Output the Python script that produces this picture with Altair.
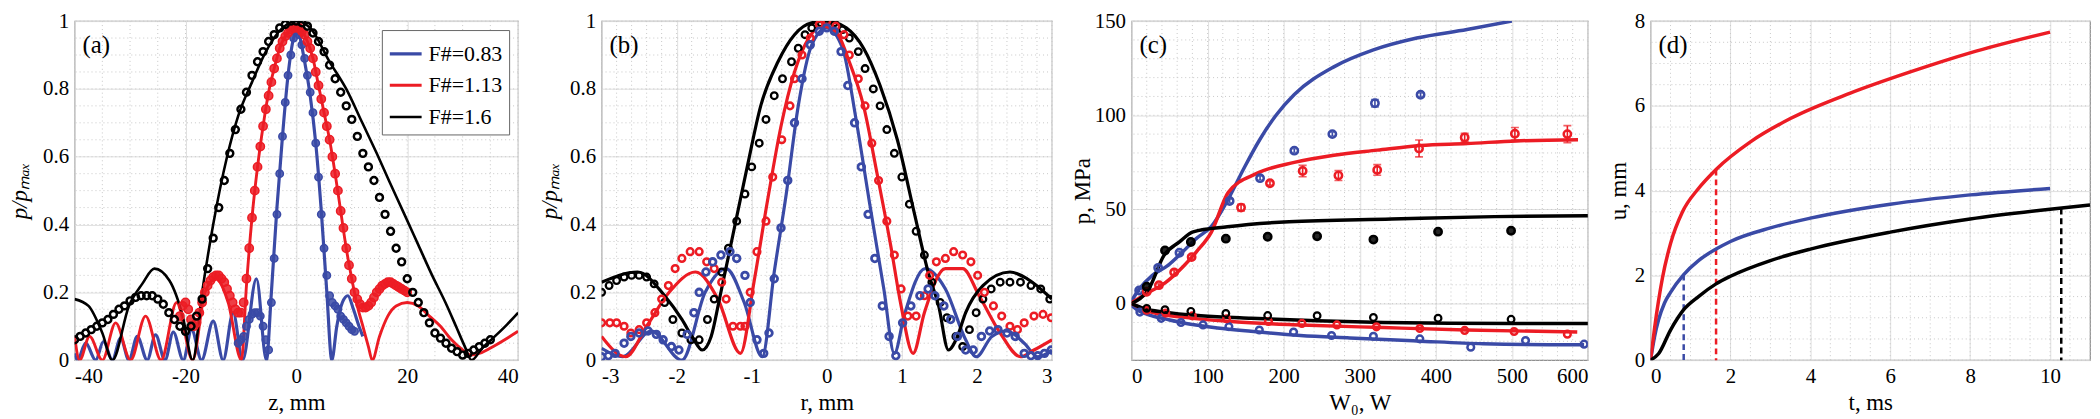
import altair as alt
import pandas as pd

FONT = "Liberation Serif, Times New Roman, serif"
BLUE = "#3a4aa6"
RED = "#ec1c24"
BLACK = "#000000"
SER = ["F#=0.83", "F#=1.13", "F#=1.6"]
COLS = [BLUE, RED, BLACK]

# ---------------- panel (a): axial profiles ----------------
a_blue_line_z = [-40, -39.5, -38, -36.2, -34.8, -33.2, -31.7, -30.2, -28.7, -26.9, -25.4, -23.7, -22.2, -20.4,
                 -18.9, -17.1, -15, -13.2, -11.4, -9.7, -7.2, -5.4, -4.5, -3.5, -2.5, -1.5, -0.5, 0, 0.5, 1.5,
                 2.5, 3.5, 4.5, 5.5, 6.4, 7.3, 8.3, 9.3, 10.3, 11.3, 12]
a_blue_line_p = [0.02, 0, 0.05, 0, 0.055, 0, 0.065, 0, 0.07, 0, 0.075, 0, 0.083, 0, 0.09, 0, 0.115, 0, 0.14, 0,
                 0.24, 0, 0.2, 0.45, 0.66, 0.84, 0.95, 0.97, 0.96, 0.88, 0.78, 0.64, 0.44, 0.2, 0, 0.1, 0.17,
                 0.19, 0.15, 0.1, 0.07]
a_red_line_z = [-40, -39.1, -37.3, -35, -32.6, -29.9, -27.2, -24.4, -21.6, -18.7, -16.5, -14.5, -12.3, -9.9, -9,
                -8, -7, -6, -5, -4, -3, -2, -1, 0, 1, 2, 3, 4, 5, 6, 7, 8, 9, 10, 11, 12, 13, 13.7, 15, 16.5,
                18, 20, 22, 24, 26, 28, 30, 31.5, 33, 36, 40]
a_red_line_p = [0.07, 0, 0.07, 0, 0.11, 0, 0.13, 0, 0.17, 0, 0.2, 0.24, 0.17, 0, 0.22, 0.42, 0.57, 0.69, 0.79,
                0.86, 0.92, 0.955, 0.975, 0.98, 0.97, 0.94, 0.89, 0.81, 0.73, 0.65, 0.55, 0.44, 0.33, 0.24, 0.16,
                0.1, 0.04, 0, 0.07, 0.13, 0.16, 0.17, 0.16, 0.13, 0.1, 0.06, 0.03, 0.015, 0.02, 0.045, 0.085]
a_black_line_z = [-40, -37.5, -35, -33.2, -30.2, -27.8, -25.6, -22.9, -20.5, -18.7, -17, -15, -12.5, -10.5, -8,
                  -5.5, -2.5, 0, 2.5, 6, 9, 11.9, 14.5, 16.7, 19.5, 22, 24.5, 26.9, 28.8, 30.4, 31.6, 33.5, 35.8,
                  38, 40]
a_black_line_p = [0.18, 0.16, 0.08, 0, 0.16, 0.225, 0.27, 0.235, 0.13, 0, 0.2, 0.4, 0.6, 0.72, 0.82, 0.91, 0.98,
                  1.0, 0.98, 0.88, 0.8, 0.7, 0.61, 0.53, 0.43, 0.34, 0.25, 0.17, 0.1, 0.04, 0, 0.035, 0.07, 0.105,
                  0.14]
a_blue_pts_z = [-10.5, -10, -9.5, -9, -8.5, -8, -7.5, -7, -6.5, -6, -5.5, -5, -4.5, -4, -3.5, -3, -2.5, -2, -1.5,
                -1, -0.5, 0, 0.5, 1, 1.5, 2, 2.5, 3, 3.5, 4, 4.5, 5, 5.5, 6, 6.5, 7, 7.5, 8, 8.5, 9, 9.5, 10, 10.5]
a_blue_pts_p = [0.05, 0.06, 0.07, 0.1, 0.12, 0.135, 0.14, 0.14, 0.13, 0.1, 0.06, 0.03, 0.17, 0.3, 0.43, 0.55,
                0.66, 0.76, 0.84, 0.9, 0.95, 0.97, 0.96, 0.93, 0.89, 0.84, 0.79, 0.73, 0.64, 0.54, 0.43, 0.33,
                0.25, 0.19, 0.17, 0.16, 0.15, 0.13, 0.12, 0.11, 0.1, 0.09, 0.085]
a_red_pts_z = [-21, -20.5, -20, -19.5, -19, -18.5, -18, -17.5, -17, -16.5, -16, -15.5, -15, -14.5, -14, -13.5,
               -13, -12.5, -12, -11.5, -11, -10.5, -10, -9.5, -9, -8.5, -8, -7.5, -7, -6.5, -6, -5.5, -5, -4.5,
               -4, -3.5, -3, -2.5, -2, -1.5, -1, -0.5, 0, 0.5, 1, 1.5, 2, 2.5, 3, 3.5, 4, 4.5, 5, 5.5, 6, 6.5,
               7, 7.5, 8, 8.5, 9, 9.5, 10, 10.5, 11, 11.5, 12, 12.5, 13, 13.5, 14, 14.5, 15, 15.5, 16, 16.5, 17,
               17.5, 18, 18.5, 19, 19.5, 20]
a_red_pts_p = [0.13, 0.16, 0.17, 0.15, 0.12, 0.1, 0.11, 0.14, 0.17, 0.2, 0.22, 0.235, 0.245, 0.25, 0.25, 0.24,
               0.23, 0.21, 0.19, 0.17, 0.15, 0.14, 0.14, 0.17, 0.24, 0.33, 0.42, 0.5, 0.57, 0.63, 0.69, 0.74,
               0.78, 0.82, 0.86, 0.89, 0.92, 0.94, 0.955, 0.965, 0.975, 0.98, 0.98, 0.98, 0.97, 0.96, 0.94,
               0.92, 0.89, 0.85, 0.81, 0.77, 0.73, 0.69, 0.65, 0.6, 0.55, 0.5, 0.44, 0.39, 0.33, 0.28, 0.24,
               0.2, 0.18, 0.165, 0.155, 0.155, 0.16, 0.17, 0.185, 0.2, 0.21, 0.22, 0.225, 0.23, 0.23, 0.225,
               0.22, 0.215, 0.21, 0.205, 0.2]
a_black_pts_z = [-40, -39, -38, -37, -36, -35, -34, -33, -32, -31, -30, -29, -28, -27, -26, -25, -24, -23, -22,
                 -21, -20, -19, -18, -17, -16, -15, -14, -13, -12, -11, -10, -9, -8, -7, -6, -5, -4, -3, -2, -1,
                 0, 1, 2, 3, 4, 5, 6, 7, 8, 9, 10, 11, 12, 13, 14, 15, 16, 17, 18, 19, 20, 21, 22, 23, 24, 25,
                 26, 27, 28, 29, 30, 31, 32, 33, 34, 35]
a_black_pts_p = [0.06, 0.07, 0.08, 0.09, 0.1, 0.11, 0.12, 0.135, 0.15, 0.16, 0.175, 0.185, 0.19, 0.19, 0.19,
                 0.18, 0.165, 0.14, 0.12, 0.1, 0.085, 0.1, 0.13, 0.18, 0.27, 0.36, 0.45, 0.53, 0.61, 0.68, 0.74,
                 0.79, 0.84, 0.88, 0.91, 0.94, 0.96, 0.98, 0.99, 1.0, 1.0, 0.995, 0.985, 0.965, 0.94, 0.91,
                 0.87, 0.83, 0.79, 0.75, 0.71, 0.66, 0.61, 0.57, 0.53, 0.48, 0.43, 0.38, 0.33, 0.29, 0.24, 0.2,
                 0.17, 0.14, 0.11, 0.08, 0.065, 0.05, 0.035, 0.025, 0.015, 0.02, 0.03, 0.04, 0.05, 0.06]

# ---------------- panel (b): radial profiles ----------------
b_blue_line_r = [-3, -2.72, -2.34, -1.93, -1.62, -1.34, -1.1, -0.86, -0.7, -0.54, -0.38, -0.2, 0, 0.21, 0.39,
                 0.58, 0.76, 0.9, 1.03, 1.31, 1.58, 1.85, 1.99, 2.2, 2.4, 2.63, 2.81, 3]
b_blue_line_p = [0.035, 0.01, 0.086, 0.0, 0.2, 0.27, 0.17, 0.01, 0.26, 0.49, 0.75, 0.93, 0.98, 0.92, 0.71, 0.45,
                 0.21, 0.02, 0.13, 0.27, 0.21, 0.06, 0.01, 0.07, 0.086, 0.05, 0.01, 0.03]
b_red_line_r = [-3, -2.68, -2.4, -2.1, -1.75, -1.45, -1.15, -0.97, -0.79, -0.61, -0.43, -0.24, -0.06, 0.12, 0.3,
                0.49, 0.67, 0.85, 0.99, 1.15, 1.3, 1.58, 1.81, 2.03, 2.31, 2.58, 2.76, 3]
b_red_line_p = [0.07, 0.01, 0.1, 0.2, 0.26, 0.18, 0.02, 0.23, 0.47, 0.69, 0.85, 0.95, 0.985, 0.97, 0.88, 0.75,
                0.55, 0.34, 0.16, 0.02, 0.14, 0.27, 0.27, 0.19, 0.08, 0.01, 0.03, 0.06]
b_black_line_r = [-3, -2.52, -2.16, -1.93, -1.77, -1.66, -1.54, -1.43, -1.25, -1.06, -0.88, -0.65, -0.43, -0.2,
                  0, 0.26, 0.49, 0.71, 0.94, 1.17, 1.35, 1.49, 1.62, 1.74, 1.85, 2.08, 2.44, 2.67, 3]
b_black_line_p = [0.23, 0.26, 0.19, 0.12, 0.06, 0.03, 0.07, 0.18, 0.37, 0.57, 0.75, 0.88, 0.96, 0.995, 1.0,
                  0.98, 0.92, 0.81, 0.65, 0.43, 0.26, 0.16, 0.03, 0.07, 0.14, 0.22, 0.26, 0.24, 0.18]
b_blue_pts_r = [-3, -2.91, -2.82, -2.7, -2.61, -2.5, -2.38, -2.27, -2.18, -2.07, -1.97, -1.86, -1.77, -1.7,
                -1.61, -1.52, -1.41, -1.29, -1.2, -1.09, -1.02, -0.93, -0.84, -0.77, -0.7, -0.61, -0.52, -0.43,
                -0.33, -0.22, -0.1, 0, 0.1, 0.19, 0.28, 0.37, 0.46, 0.55, 0.64, 0.74, 0.83, 0.92, 1.01, 1.12,
                1.24, 1.35, 1.44, 1.56, 1.65, 1.74, 1.85, 1.95, 2.06, 2.17, 2.28, 2.4, 2.51, 2.63, 2.72, 2.81,
                2.9, 2.99]
b_blue_pts_p = [0.01, 0.013, 0.02, 0.05, 0.07, 0.08, 0.086, 0.076, 0.06, 0.04, 0.03, 0.076, 0.14, 0.2, 0.26,
                0.29, 0.31, 0.32, 0.3, 0.25, 0.17, 0.06, 0.02, 0.08, 0.24, 0.39, 0.53, 0.7, 0.83, 0.93, 0.97,
                0.98, 0.97, 0.91, 0.81, 0.7, 0.57, 0.43, 0.3, 0.16, 0.07, 0.013, 0.11, 0.16, 0.19, 0.21, 0.19,
                0.16, 0.12, 0.07, 0.03, 0.03, 0.07, 0.086, 0.09, 0.08, 0.07, 0.02, 0.013, 0.013, 0.02, 0.03]
b_red_pts_r = [-3, -2.89, -2.8, -2.7, -2.61, -2.5, -2.4, -2.29, -2.2, -2.11, -2.02, -1.93, -1.82, -1.7, -1.6,
               -1.5, -1.4, -1.34, -1.25, -1.15, -1.09, -1.02, -0.93, -0.81, -0.72, -0.6, -0.49, -0.43, -0.33,
               -0.22, -0.1, 0, 0.12, 0.23, 0.3, 0.42, 0.51, 0.6, 0.69, 0.8, 0.9, 0.99, 1.08, 1.19, 1.3, 1.37,
               1.46, 1.58, 1.69, 1.81, 1.92, 2.01, 2.1, 2.22, 2.33, 2.44, 2.54, 2.63, 2.76, 2.88, 2.99]
b_red_pts_p = [0.11, 0.11, 0.11, 0.1, 0.08, 0.09, 0.11, 0.14, 0.18, 0.22, 0.27, 0.3, 0.32, 0.32, 0.29, 0.27,
               0.23, 0.18, 0.1, 0.1, 0.1, 0.2, 0.32, 0.41, 0.54, 0.65, 0.75, 0.83, 0.9, 0.95, 0.99, 1.0, 0.985,
               0.96, 0.9, 0.83, 0.75, 0.64, 0.53, 0.41, 0.31, 0.21, 0.13, 0.13, 0.19, 0.25, 0.29, 0.3, 0.32,
               0.31, 0.29, 0.25, 0.2, 0.16, 0.13, 0.1, 0.09, 0.11, 0.13, 0.135, 0.125]
b_black_pts_r = [-3, -2.9, -2.8, -2.7, -2.6, -2.5, -2.4, -2.3, -2.16, -2.05, -1.93, -1.81, -1.7, -1.59, -1.5,
                 -1.4, -1.31, -1.2, -1.09, -1.0, -0.9, -0.81, -0.7, -0.59, -0.47, -0.38, -0.29, -0.2, -0.08, 0,
                 0.1, 0.21, 0.3, 0.42, 0.51, 0.62, 0.71, 0.8, 0.9, 1.0, 1.1, 1.19, 1.3, 1.4, 1.51, 1.6, 1.72,
                 1.81, 1.9, 1.99, 2.08, 2.19, 2.31, 2.44, 2.58, 2.72, 2.85, 2.97]
b_black_pts_p = [0.2, 0.22, 0.235, 0.245, 0.25, 0.25, 0.245, 0.225, 0.17, 0.12, 0.08, 0.06, 0.06, 0.12, 0.18,
                 0.26, 0.33, 0.41, 0.49, 0.57, 0.64, 0.71, 0.78, 0.83, 0.88, 0.92, 0.96, 0.98, 0.995, 1.0, 0.995,
                 0.975, 0.95, 0.91, 0.86, 0.8, 0.75, 0.68, 0.61, 0.54, 0.46, 0.38, 0.31, 0.23, 0.17, 0.125,
                 0.07, 0.04, 0.09, 0.14, 0.18, 0.21, 0.23, 0.23, 0.23, 0.22, 0.21, 0.18]

# ---------------- panel (c): peak pressures vs power ----------------
c_blue_up_w = [0, 10, 27, 47, 67, 85, 105, 127, 148, 168.5, 190, 214, 266, 318, 375, 441, 500]
c_blue_up_p = [1.4, 7.7, 14.9, 20, 27.4, 34.5, 41, 55.4, 72, 87, 100, 111, 125.7, 134.7, 141, 145.5, 150]
c_red_up_w = [0, 22.5, 45, 67, 85, 105, 127, 164, 214, 266, 323, 380, 441, 506, 587]
c_red_up_p = [0.5, 5.9, 11.3, 19.3, 27.4, 38, 59, 69, 75, 78.8, 81.5, 84, 85, 86.4, 87]
c_black_up_w = [0, 22.5, 42.7, 63, 81, 126, 207, 342, 477, 600]
c_black_up_p = [0, 7.7, 25.6, 32.8, 38.1, 40.8, 43.5, 44.9, 46.2, 46.7]
c_blue_lo_w = [0, 8.7, 26, 48, 70, 113, 157, 222, 287, 375, 462, 549, 595]
c_blue_lo_p = [-0.9, -3.6, -6.4, -8.5, -10.4, -12.9, -14.7, -16.9, -18.2, -19.8, -21.3, -21.8, -21.8]
c_red_lo_w = [0, 26, 70, 135, 222, 331, 440, 586]
c_red_lo_p = [0, -4.5, -7.3, -9.6, -11.3, -12.7, -14, -15.1]
c_black_lo_w = [0, 17, 43.6, 91, 157, 244, 331, 418, 505, 600]
c_black_lo_p = [0, -2.7, -4.5, -6.4, -7.8, -9.1, -10, -10.4, -10.5, -10.5]

c_blue_up_pts_w = [10, 35, 63, 129, 169, 214, 264, 320, 380]
c_blue_up_pts_p = [7, 19, 27, 54.5, 66.6, 81.2, 90, 106.4, 110.9]
c_blue_up_pts_e = [0.8, 0.8, 0.8, 1, 1, 1, 1, 2, 1]
c_red_up_pts_w = [20, 36, 56, 79, 144, 182, 225, 272, 323, 378, 438, 504, 573]
c_red_up_pts_p = [6.3, 9.8, 16.6, 24.7, 51, 63.9, 70.4, 68, 71, 82.4, 88.2, 90.2, 90]
c_red_up_pts_e = [0.8, 0.8, 1, 1, 1.8, 1, 3, 2.6, 2.8, 4.5, 2.2, 3.3, 4.5]
c_black_up_pts_w = [20, 44, 78, 124, 179, 244, 318, 403, 499]
c_black_up_pts_p = [9, 28.2, 32.7, 34.5, 35.5, 35.8, 34, 38.2, 38.7]
c_blue_lo_pts_w = [11, 39, 65, 94, 128, 168, 213, 263, 318, 379, 446, 518, 595]
c_blue_lo_pts_p = [-4.5, -7.8, -10, -11.3, -12.2, -14, -15.1, -16.9, -17.3, -18.7, -23.1, -19.6, -21.5]
c_red_lo_pts_w = [20, 45, 80, 125, 180, 224, 270, 322, 379, 438, 503, 573]
c_red_lo_pts_p = [-3.5, -5, -6.5, -8, -9.5, -10.5, -11.3, -12.3, -13.2, -14.2, -14.8, -16.2]
c_black_lo_pts_w = [20, 44, 78, 124, 179, 244, 318, 403, 499]
c_black_lo_pts_p = [-2.5, -3.2, -4.1, -5.2, -6.3, -6.4, -7.3, -7.7, -8.3]

# ---------------- panel (d): displacement vs time ----------------
d_blue_t = [0, 0.1, 0.2, 0.35, 0.5, 0.83, 1.2, 1.64, 2, 3, 4, 6, 8, 10]
d_blue_u = [0, 0.55, 0.95, 1.35, 1.6, 2.02, 2.35, 2.62, 2.8, 3.12, 3.35, 3.68, 3.9, 4.05]
d_red_t = [0, 0.1, 0.2, 0.3, 0.5, 0.8, 1.2, 1.64, 2.5, 3.5, 5, 6.5, 8, 10]
d_red_u = [0, 0.75, 1.4, 1.95, 2.75, 3.5, 4.05, 4.5, 5.15, 5.7, 6.3, 6.8, 7.25, 7.74]
d_black_t = [0, 0.2, 0.5, 0.83, 1.2, 1.64, 2, 3, 4, 6, 8, 10, 11]
d_black_u = [0, 0.15, 0.71, 1.19, 1.5, 1.8, 1.98, 2.35, 2.62, 3.02, 3.33, 3.56, 3.66]
d_drop_t = [0.83, 1.64, 10.28]
d_drop_u = [2.02, 4.5, 3.58]

# ---------------------------------------------------------------
CSCALE = alt.Scale(domain=SER, range=COLS)
H = 341


def lines_df(*groups):
    frames = []
    for xs, ys, s in groups:
        frames.append(pd.DataFrame({"x": xs, "y": ys, "s": s}))
    return pd.concat(frames, ignore_index=True)


def panel(line_groups, pt_layers, xdom, ydom, xvals, yvals, xstep, ystep, xtitle, ytitle, tag, w,
          yext, ytpad, legend=None, ystyle="normal", widths=(3.2, 3.2, 3.2), extra=None):
    xs = alt.Scale(domain=xdom, nice=False, zero=False)
    ys = alt.Scale(domain=ydom, nice=False, zero=False)
    lbl = "'' + datum.value"
    xa = alt.Axis(values=xvals, title=xtitle, labelExpr=lbl, grid=True, labelPadding=5, titlePadding=6)
    ya = alt.Axis(values=yvals, title=ytitle, labelExpr=lbl, grid=True, labelPadding=6,
                  titlePadding=ytpad, minExtent=yext, maxExtent=yext, titleFontStyle=ystyle)

    def X(f):
        return alt.X(f, scale=xs, axis=xa)

    def Y(f):
        return alt.Y(f, scale=ys, axis=ya)

    layers = []
    layers.append(
        alt.Chart(alt.sequence(xdom[0], xdom[1] + xstep / 2, xstep, as_="v"))
        .mark_rule(color="#c8c8c8", strokeDash=[1, 3], strokeWidth=1)
        .encode(x=X("v:Q"))
    )
    layers.append(
        alt.Chart(alt.sequence(ydom[0], ydom[1] + ystep / 2, ystep, as_="v"))
        .mark_rule(color="#c8c8c8", strokeDash=[1, 3], strokeWidth=1)
        .encode(y=Y("v:Q"))
    )
    if extra is not None:
        for ex in extra:
            layers.append(ex(X, Y))
    for grp in line_groups:
        ldf = lines_df(*grp)
        layers.append(
            alt.Chart(ldf)
            .mark_line(interpolate="monotone", clip=True)
            .encode(
                x=X("x:Q"),
                y=Y("y:Q"),
                color=alt.Color("s:N", scale=CSCALE, legend=legend),
                strokeWidth=alt.StrokeWidth("s:N", scale=alt.Scale(domain=SER, range=list(widths)),
                                            legend=None),
            )
        )
    for xs_, ys_, col, sw, sz, err, filled in pt_layers:
        d = pd.DataFrame({"x": xs_, "y": ys_})
        if err is not None:
            d["e"] = err
            base = alt.Chart(d).transform_calculate(lo="datum.y - datum.e", hi="datum.y + datum.e")
            layers.append(base.mark_rule(color=col, strokeWidth=1.6, clip=True)
                          .encode(x=X("x:Q"), y=Y("lo:Q"), y2="hi:Q"))
            layers.append(base.mark_tick(color=col, orient="horizontal", size=8, thickness=1.6, clip=True)
                          .encode(x=X("x:Q"), y=Y("lo:Q")))
            layers.append(base.mark_tick(color=col, orient="horizontal", size=8, thickness=1.6, clip=True)
                          .encode(x=X("x:Q"), y=Y("hi:Q")))
        if filled:
            mk = alt.Chart(d).mark_point(shape="circle", filled=True, fill=col, stroke=col, strokeWidth=sw,
                                         size=sz, opacity=1, fillOpacity=0.85, clip=True)
        else:
            mk = alt.Chart(d).mark_point(shape="circle", filled=False, color=col, strokeWidth=sw, size=sz,
                                         opacity=1, clip=True)
        layers.append(mk.encode(x=X("x:Q"), y=Y("y:Q")))
    layers.append(
        alt.Chart(pd.DataFrame({"t": [tag]}))
        .mark_text(x=8, y=24, align="left", baseline="middle", font=FONT, fontSize=25, color="black")
        .encode(text="t:N")
    )
    return alt.layer(*layers).properties(width=w, height=H)


legend_a = alt.Legend(
    title=None, orient="top-right", offset=9, symbolType="stroke", symbolStrokeWidth=3.5,
    symbolSize=1024, labelFont=FONT, labelFontSize=22, labelColor="black", strokeColor="#666666",
    fillColor="white", padding=6, rowPadding=3, labelOffset=5, labelLimit=300,
)

pa = panel(
    [[(a_blue_line_z, a_blue_line_p, SER[0]), (a_red_line_z, a_red_line_p, SER[1]),
      (a_black_line_z, a_black_line_p, SER[2])]],
    [
        (a_blue_pts_z, a_blue_pts_p, BLUE, 1.5, 55, None, True),
        (a_red_pts_z, a_red_pts_p, RED, 1.5, 70, None, True),
        (a_black_pts_z, a_black_pts_p, BLACK, 2.5, 48, None, False),
    ],
    [-40, 40], [0, 1], [-40, -20, 0, 20, 40], [0, 0.2, 0.4, 0.6, 0.8, 1], 5, 0.05,
    "z, mm", "p/pₘₐₓ", "(a)", 446, 32, 11, legend=legend_a, ystyle="italic", widths=(3.2, 2.6, 3.2),
)

pb = panel(
    [[(b_blue_line_r, b_blue_line_p, SER[0]), (b_red_line_r, b_red_line_p, SER[1]),
      (b_black_line_r, b_black_line_p, SER[2])]],
    [
        (b_black_pts_r, b_black_pts_p, BLACK, 2.3, 45, None, False),
        (b_red_pts_r, b_red_pts_p, RED, 2.5, 45, None, False),
        (b_blue_pts_r, b_blue_pts_p, BLUE, 2.8, 45, None, False),
    ],
    [-3, 3], [0, 1], [-3, -2, -1, 0, 1, 2, 3], [0, 0.2, 0.4, 0.6, 0.8, 1], 0.2, 0.05,
    "r, mm", "p/pₘₐₓ", "(b)", 453, 32, 8.5, ystyle="italic",
)

pc = panel(
    [[(c_blue_up_w, c_blue_up_p, SER[0]), (c_red_up_w, c_red_up_p, SER[1]),
      (c_black_up_w, c_black_up_p, SER[2])],
     [(c_blue_lo_w, c_blue_lo_p, SER[0]), (c_red_lo_w, c_red_lo_p, SER[1]),
      (c_black_lo_w, c_black_lo_p, SER[2])]],
    [
        (c_blue_up_pts_w, c_blue_up_pts_p, BLUE, 2.5, 55, c_blue_up_pts_e, False),
        (c_red_up_pts_w, c_red_up_pts_p, RED, 2.5, 55, c_red_up_pts_e, False),
        (c_black_up_pts_w, c_black_up_pts_p, BLACK, 2.5, 55, None, True),
        (c_blue_lo_pts_w, c_blue_lo_pts_p, BLUE, 2.5, 45, None, False),
        (c_red_lo_pts_w, c_red_lo_pts_p, RED, 2.5, 45, None, False),
        (c_black_lo_pts_w, c_black_lo_pts_p, BLACK, 2.2, 45, None, False),
    ],
    [0, 600], [-30, 150], [0, 100, 200, 300, 400, 500, 600], [0, 50, 100, 150], 20, 10,
    "W₀, W", "p, MPa", "(c)", 459, 37, 0, widths=(3.5, 3.5, 3.5),
)


def drops(X, Y):
    d = pd.DataFrame({"x": d_drop_t, "y": d_drop_u, "s": SER})
    return (
        alt.Chart(d)
        .mark_rule(strokeDash=[6, 4], strokeWidth=2.5)
        .encode(x=X("x:Q"), y=Y("y:Q"), y2=alt.datum(0),
                color=alt.Color("s:N", scale=CSCALE, legend=None))
    )


pd_ = panel(
    [[(d_blue_t, d_blue_u, SER[0]), (d_red_t, d_red_u, SER[1]), (d_black_t, d_black_u, SER[2])]],
    [],
    [0, 11], [0, 8], [0, 2, 4, 6, 8, 10], [0, 2, 4, 6, 8], 0.5, 0.5,
    "t, ms", "u, mm", "(d)", 442, 18, 2, extra=[drops], widths=(3.5, 3.5, 3.5),
)

chart = (
    alt.hconcat(pa, pb, pc, pd_, spacing=17)
    .resolve_scale(color="independent", strokeWidth="independent")
    .properties(padding={"left": 0, "top": 0, "right": 0, "bottom": 0})
    .configure(font=FONT)
    .configure_axis(
        labelFont=FONT, labelFontSize=21, labelColor="black",
        titleFont=FONT, titleFontSize=23, titleFontWeight="normal", titleColor="black",
        domain=False, ticks=False, gridColor="#e0e0e0", gridWidth=1,
    )
    .configure_view(stroke="#8f8f8f", strokeWidth=1.2)
)

chart.save("out.html", embed_options={"renderer": "svg", "actions": False})
